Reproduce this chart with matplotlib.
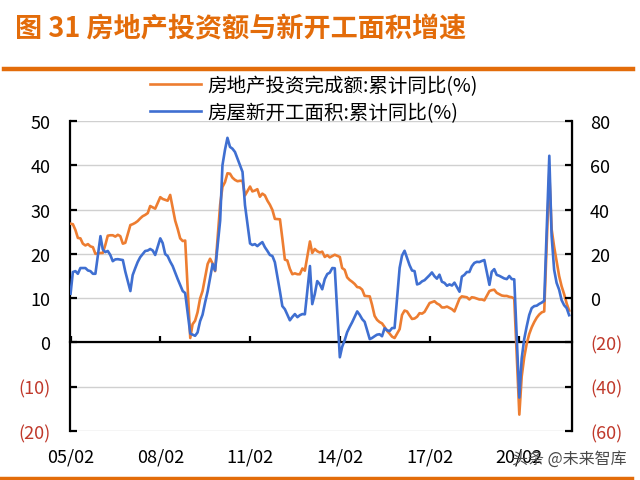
import matplotlib
matplotlib.use('Agg')
import matplotlib.pyplot as plt
import pandas as pd
from matplotlib.lines import Line2D

plt.rcParams['font.family'] = ['Noto Sans CJK SC', 'DejaVu Sans']

# ---------------- data ----------------
title = '图 31 房地产投资额与新开工面积增速'
label_invest = '房地产投资完成额:累计同比(%)'
label_start = '房屋新开工面积:累计同比(%)'
watermark = '头条 @未来智库'

first_year = 2005
last_year = 2021
last_month = 10

invest_yoy = [
    26.8, 26.7, 25.4, 23.6, 23.5, 22.3, 21.9, 22.2, 21.7, 21.5, 20.0,   # 2005
    20.2, 20.2, 22.0, 24.1, 24.2, 24.2, 23.9, 24.3, 24.0, 22.3, 22.5,   # 2006
    26.5, 26.7, 27.0, 27.4, 28.0, 28.5, 28.8, 29.2, 30.8, 30.5, 30.2,   # 2007
    32.8, 32.4, 32.2, 32.0, 33.3, 30.5, 27.5, 25.6, 23.5, 22.9, 23.0,   # 2008
    1.0, 4.1, 4.9, 6.8, 9.9, 11.6, 14.7, 17.7, 18.9, 17.8, 16.1,        # 2009
    31.1, 35.1, 36.2, 38.2, 38.1, 37.2, 36.7, 36.4, 36.5, 36.5, 33.2,   # 2010
    35.2, 34.1, 34.3, 34.6, 32.9, 33.6, 33.2, 32.0, 31.1, 29.9, 27.9,   # 2011
    27.8, 23.5, 18.7, 18.5, 16.6, 15.4, 15.6, 15.4, 15.4, 16.7, 16.2,   # 2012
    22.8, 20.2, 21.1, 20.6, 20.3, 20.5, 19.3, 19.7, 19.2, 19.5, 19.8,   # 2013
    19.3, 16.8, 16.4, 14.7, 14.1, 13.7, 13.2, 12.5, 12.4, 11.9, 10.5,   # 2014
    10.4, 8.5, 6.0, 5.1, 4.6, 4.3, 3.5, 2.6, 2.0, 1.3, 1.0,             # 2015
    3.0, 6.2, 7.2, 7.0, 6.1, 5.3, 5.4, 5.8, 6.6, 6.5, 6.9,              # 2016
    8.9, 9.1, 9.3, 8.8, 8.5, 7.9, 7.9, 8.1, 7.8, 7.5, 7.0,              # 2017
    9.9, 10.4, 10.3, 10.2, 9.7, 10.2, 10.1, 9.9, 9.7, 9.7, 9.5,         # 2018
    11.6, 11.8, 11.9, 11.2, 10.9, 10.6, 10.5, 10.5, 10.3, 10.2, 9.9,    # 2019
    -16.3, -7.7, -3.3, -0.3, 1.9, 3.4, 4.6, 5.6, 6.3, 6.8, 7.0,         # 2020
    38.3, 25.6, 21.6, 18.3, 15.0, 12.7, 10.9, 8.8, 7.2,                 # 2021
]

newstart_yoy = [
    2.0, 11.8, 12.2, 11.0, 13.6, 13.6, 13.6, 12.5, 12.2, 11.0, 11.0,          # 2005
    28.0, 22.0, 20.8, 21.3, 19.5, 16.7, 17.5, 17.6, 17.4, 17.2, 12.0,         # 2006
    3.2, 10.4, 13.5, 16.3, 18.5, 19.9, 21.3, 21.5, 22.2, 21.5, 19.5,          # 2007
    27.0, 24.9, 19.9, 19.0, 16.5, 14.5, 11.5, 8.6, 6.0, 3.2, 2.3,             # 2008
    -16.0, -16.5, -17.0, -15.5, -10.4, -7.5, -2.0, 3.0, 9.0, 15.4, 12.5,      # 2009
    35.0, 60.0, 67.0, 72.4, 68.3, 67.5, 66.0, 63.0, 60.0, 57.0, 42.0,         # 2010
    24.7, 24.0, 24.4, 23.5, 24.5, 25.3, 23.0, 21.3, 19.5, 19.0, 16.2,         # 2011
    3.0, -3.6, -5.0, -7.5, -10.0, -8.5, -7.2, -8.6, -7.7, -7.2, -7.3,         # 2012
    14.5, -2.7, 1.8, 7.7, 6.3, 4.0, 8.6, 10.9, 11.5, 13.6, 13.5,              # 2013
    -26.7, -22.0, -19.0, -15.4, -13.0, -10.9, -8.5, -6.0, -7.5, -9.5, -10.7,  # 2014
    -18.5, -18.0, -17.2, -16.5, -16.3, -17.2, -13.6, -14.5, -14.9, -13.5, -13.5,  # 2015
    13.7, 19.2, 21.4, 18.2, 14.9, 12.5, 12.2, 6.2, 6.6, 7.6, 8.1,             # 2016
    10.4, 11.6, 9.9, 8.8, 10.6, 7.4, 6.9, 5.6, 6.2, 5.7, 7.0,                 # 2017
    2.9, 9.7, 10.5, 11.8, 11.8, 14.4, 15.9, 16.4, 16.3, 16.8, 17.2,           # 2018
    6.0, 11.9, 13.1, 10.5, 10.1, 9.5, 8.9, 8.6, 10.0, 8.6, 8.5,               # 2019
    -44.9, -27.2, -18.4, -12.8, -7.6, -4.5, -3.6, -3.4, -2.6, -2.0, -1.2,     # 2020
    64.3, 28.2, 12.8, 6.9, 3.8, -0.9, -3.2, -4.5, -7.7,                       # 2021
]

left_ticks = [-20, -10, 0, 10, 20, 30, 40, 50]
left_labels = ['(20)', '(10)', '0', '10', '20', '30', '40', '50']
right_ticks = [-60, -40, -20, 0, 20, 40, 60, 80]
right_labels = ['(60)', '(40)', '(20)', '0', '20', '40', '60', '80']
x_tick_dates = ['2005-02-01', '2008-02-01', '2011-02-01', '2014-02-01', '2017-02-01', '2020-02-01']
x_tick_labels = ['05/02', '08/02', '11/02', '14/02', '17/02', '20/02']

# monthly dates: Feb-Dec each year (Jan merged into Jan-Feb figure)
dates = [pd.Timestamp(y, m, 1) for y in range(first_year, last_year) for m in range(2, 13)]
dates += [pd.Timestamp(last_year, m, 1) for m in range(2, last_month + 1)]

# ---------------- style ----------------
ORANGE = '#ED7D31'
BLUE = '#3F6FD1'
TITLE_ORANGE = '#E36C0A'
NEG_RED = '#C0392B'

fig = plt.figure(figsize=(6.4, 4.81), dpi=100)
fig.patch.set_facecolor('white')

ax = fig.add_axes([70 / 640, 49 / 481, 502 / 640, 310 / 481])
ax2 = ax.twinx()

ax.plot(dates, invest_yoy, color=ORANGE, lw=1.9, zorder=3)
ax2.plot(dates, newstart_yoy, color=BLUE, lw=1.9, zorder=3)

ax.set_ylim(-20, 50)
ax2.set_ylim(-60, 80)
ax.set_xlim(pd.Timestamp('2005-01-25'), pd.Timestamp('2021-11-05'))

ax.set_yticks(left_ticks)
ax.set_yticklabels(left_labels)
ax2.set_yticks(right_ticks)
ax2.set_yticklabels(right_labels)

ax.grid(axis='y', color='#D0D0D0', lw=1.0, zorder=0)
ax.set_axisbelow(True)

for a in (ax, ax2):
    a.spines['top'].set_visible(False)
ax2.spines['bottom'].set_visible(False)
ax.spines['bottom'].set_position(('data', 0))
for s in ('left', 'bottom'):
    ax.spines[s].set_linewidth(1.6)
    ax.spines[s].set_color('black')
ax2.spines['right'].set_linewidth(1.6)
ax2.spines['right'].set_color('black')
ax2.spines['left'].set_visible(False)

ax.tick_params(axis='y', direction='in', length=5, width=1.6, pad=14, labelsize=13)
ax2.tick_params(axis='y', direction='in', length=5, width=1.6, pad=13, labelsize=13)

tick_pos = [pd.Timestamp(d) for d in x_tick_dates]
ax.set_xticks(tick_pos)
ax.tick_params(axis='x', direction='in', length=4, width=1.6, labelbottom=False)

sec = ax.secondary_xaxis('bottom')
sec.set_xticks(ax.get_xticks())
sec.set_xticklabels(x_tick_labels)
sec.tick_params(axis='x', length=0, pad=12, labelsize=13)
sec.spines['bottom'].set_visible(False)

for lab in ax.get_yticklabels() + ax2.get_yticklabels():
    if lab.get_text().startswith('('):
        lab.set_color(NEG_RED)

# legend
handles = [Line2D([], [], color=ORANGE, lw=1.9), Line2D([], [], color=BLUE, lw=1.9)]
fig.legend(handles, [label_invest, label_start], loc='upper left',
           bbox_to_anchor=(150 / 640, 1 - 76 / 481), frameon=False,
           fontsize=14, handlelength=2.6, handletextpad=0.35,
           labelspacing=0.3, borderpad=0, borderaxespad=0)

# title & rules
fig.text(15 / 640, 1 - 29 / 481, title, color=TITLE_ORANGE, fontsize=19.5,
         fontweight='semibold', va='center', ha='left')
fig.add_artist(Line2D([4 / 640, 633 / 640], [1 - 70 / 481, 1 - 70 / 481],
                      color=TITLE_ORANGE, lw=3.2))
fig.add_artist(Line2D([0, 632 / 640], [1 - 479.5 / 481, 1 - 479.5 / 481],
                      color=TITLE_ORANGE, lw=3.2))

fig.text(627 / 640, 1 - 459 / 481, watermark, color='#4A4A4A', fontsize=11.5,
         va='center', ha='right')

fig.savefig('out.png', dpi=100)
